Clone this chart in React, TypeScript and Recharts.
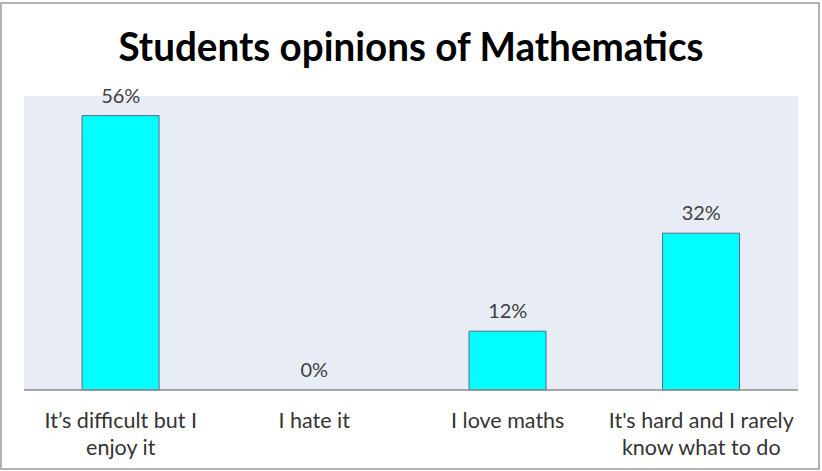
import { Bar, CartesianGrid, ComposedChart, LabelList, Line, XAxis, YAxis } from 'recharts'

const categories = [
  'It’s difficult but I enjoy it',
  'I hate it',
  'I love maths',
  "It's hard and I rarely know what to do",
]
const percentages = [56, 0, 12, 32]

const data = categories.map((name, i) => ({ name, value: percentages[i] }))

const FONT = 'Lato, "Open Sans", sans-serif'
const TICK_SIZE = 21.5

let ctx: CanvasRenderingContext2D | null = null
function wrap(text: string, maxWidth: number) {
  if (!ctx) ctx = document.createElement('canvas').getContext('2d')
  ctx!.font = `${TICK_SIZE}px ${FONT}`
  const lines: string[] = []
  let cur = ''
  for (const w of text.split(' ')) {
    const next = cur ? cur + ' ' + w : w
    if (cur && ctx!.measureText(next).width > maxWidth) {
      lines.push(cur)
      cur = w
    } else {
      cur = next
    }
  }
  if (cur) lines.push(cur)
  return lines
}

function CategoryTick(props: any) {
  const { x, y, payload } = props
  const lines = wrap(payload.value, 198)
  return (
    <text x={x} y={y + 30} textAnchor="middle" fontFamily={FONT} fontSize={TICK_SIZE} fill="#333">
      {lines.map((l, i) => (
        <tspan key={i} x={x} dy={i === 0 ? 0 : 27}>
          {l}
        </tspan>
      ))}
    </text>
  )
}

export default function App() {
  return (
    <div style={{ position: 'fixed', left: 0, top: 0, width: 822, height: 471, background: '#fff' }}>
      <svg width={822} height={471} style={{ position: 'absolute', left: 0, top: 0 }}>
        <rect x={1} y={3} width={818} height={466} fill="none" stroke="#9a9a9a" strokeWidth={1.5} />
        <text
          x={411}
          y={61}
          textAnchor="middle"
          fontFamily={FONT}
          fontWeight="bold"
          fontSize={40}
          fill="#000"
          textLength={585}
          lengthAdjust="spacingAndGlyphs"
        >
          Students opinions of Mathematics
        </text>
      </svg>
      <div style={{ position: 'absolute', left: 0, top: 0 }}>
        <ComposedChart
          width={822}
          height={471}
          data={data}
          margin={{ top: 96, right: 24, left: 24, bottom: 0 }}
          barCategoryGap="30%"
        >
          <CartesianGrid fill="#e8ecf4" horizontal={false} vertical={false} />
          <YAxis hide domain={[0, 60]} />
          <XAxis
            dataKey="name"
            height={81}
            interval={0}
            tickLine={false}
            axisLine={{ stroke: '#8c8c8c', strokeWidth: 1.5 }}
            tick={<CategoryTick />}
          />
          <Bar dataKey="value" fill="#00ffff" stroke="#4f6f8f" strokeWidth={1} isAnimationActive={false} />
          <Line
            dataKey="value"
            stroke="none"
            dot={false}
            activeDot={false}
            legendType="none"
            isAnimationActive={false}
          >
            <LabelList
              dataKey="value"
              position="top"
              offset={13}
              formatter={(v: any) => `${v}%`}
              fontFamily={FONT}
              fontSize={20}
              fill="#404040"
            />
          </Line>
        </ComposedChart>
      </div>
    </div>
  )
}
